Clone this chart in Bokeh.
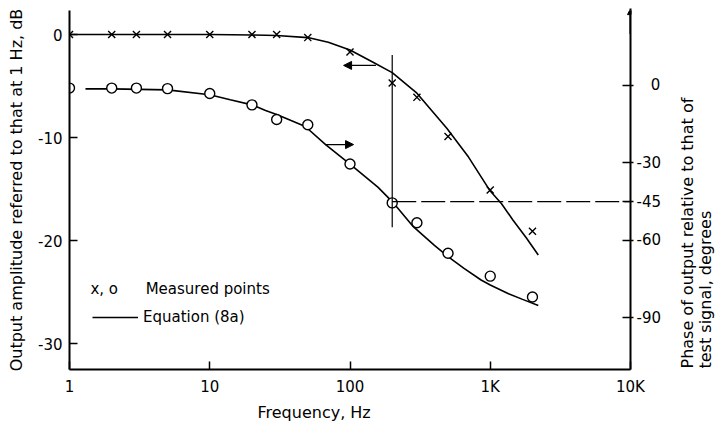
import math
from bokeh.plotting import figure
from bokeh.layouts import row
from bokeh.models import (Range1d, LinearAxis, FixedTicker, Arrow, NormalHead, Label,
                          Legend, LegendItem, Title)
from bokeh.core.properties import value
from bokeh.embed import file_html
from bokeh.resources import INLINE

FONT = "DejaVu Sans"
TICK_FS = "15px"
TITLE_FS = "16px"

# ---------------- data ----------------
# measured points (x = amplitude, o = phase)
freq_meas = [1, 2, 3, 5, 10, 20, 30, 50, 100, 200, 300, 500, 1000, 2000]
amp_meas_db = [0, 0, 0, 0, 0, 0, 0, -0.3, -1.7, -4.7, -6.1, -9.9, -15.1, -19.1]
phase_meas_deg = [-1, -1, -1, -1.2, -3.1, -7.5, -13.2, -15.2, -30.4, -45.5, -53.2, -65, -73.9, -82]

# Equation (8a) curves
amp_curve_freq = [1, 10, 20, 30, 50, 70, 100, 146, 200, 300, 490, 700, 1000, 1200, 1450, 1800, 2200]
amp_curve_db = [0, 0, -0.05, -0.1, -0.3, -0.75, -1.5, -2.7, -3.7, -5.7, -9.1, -11.9, -15.2, -16.4,
                -18.0, -19.7, -21.4]
phase_curve_freq = [1.3, 2, 5, 10, 14, 20, 25, 30, 38, 48, 67, 100, 158, 200, 280, 400, 500, 650,
                    860, 1000, 1350, 1700, 2200]
phase_curve_deg = [-1.3, -1.3, -1.7, -3.6, -5.5, -7.5, -9.7, -11.2, -13.6, -15.9, -22.9, -30.5,
                   -39.4, -45, -54.5, -62, -66.3, -70.9, -75.4, -77.3, -80.7, -82.9, -85.3]

# -45 degree construction at 200 Hz
corner_freq = 200
corner_phase = -45
corner_amp_span = [-2.0, -18.7]

# ticks
x_ticks = [1, 10, 100, 1000, 10000]
x_tick_labels = ["1", "10", "100", "1K", "10K"]
amp_ticks = [0, -10, -20, -30]
amp_tick_labels = ["0", "-10", "-20", "-30"]
phase_ticks = [0, -30, -45, -60, -90]
phase_tick_labels = ["0", "-30", "-45", "-60", "-90"]

right_title_lines = ["Phase of output relative to that of", "test signal, degrees"]

# ---------------- main figure ----------------
p = figure(width=668, height=428, x_axis_type="log",
           x_range=Range1d(1, 10000), y_range=Range1d(-32.52, 2.33),
           output_backend="svg", toolbar_location=None,
           min_border_left=69, min_border_right=38, min_border_top=10, min_border_bottom=59)
p.extra_y_ranges = {"phase": Range1d(-110.08, 29.07)}
p.outline_line_color = None
p.xgrid.grid_line_color = None
p.ygrid.grid_line_color = None
p.background_fill_color = "white"
p.border_fill_color = "white"


def style_axis(ax, standoff):
    ax.axis_line_color = "black"
    ax.axis_line_width = 2
    ax.major_tick_line_color = "black"
    ax.major_tick_line_width = 1.5
    ax.major_tick_in = 8
    ax.major_tick_out = 0
    ax.minor_tick_line_color = None
    ax.major_label_text_font = FONT
    ax.major_label_text_font_size = TICK_FS
    ax.major_label_text_color = "black"
    ax.major_label_standoff = standoff
    ax.axis_label_text_font = FONT
    ax.axis_label_text_font_size = TITLE_FS
    ax.axis_label_text_font_style = "normal"
    ax.axis_label_text_color = "black"


xa = p.xaxis[0]
xa.ticker = FixedTicker(ticks=x_ticks)
xa.major_label_overrides = {t: l for t, l in zip(x_ticks, x_tick_labels)}
style_axis(xa, 8)

ya = p.yaxis[0]
ya.ticker = FixedTicker(ticks=amp_ticks)
ya.major_label_overrides = {t: l for t, l in zip(amp_ticks, amp_tick_labels)}
style_axis(ya, 7)
ya.axis_label = "Output amplitude referred to that at 1 Hz, dB"
ya.axis_label_standoff = 9


# right (phase) axis; short labels padded so that they line up on the right
def pad(s, width):
    missing = width - len(s)
    return "\u2007" * max(0, missing - 1) + ("\u2008" if missing > 0 else "") + s


ra = LinearAxis(y_range_name="phase", ticker=FixedTicker(ticks=phase_ticks))
style_axis(ra, 3)
ra.major_tick_out = 3
ra.major_label_overrides = {t: pad(l, 3) for t, l in zip(phase_ticks, phase_tick_labels)}
p.add_layout(ra, "right")

p.add_layout(Title(text="Frequency, Hz", align="left", offset=188, standoff=5,
                   text_font=FONT, text_font_size=TITLE_FS, text_font_style="normal",
                   text_color="black"), "below")

# ---------------- curves and points ----------------
amp_line = p.line(amp_curve_freq, amp_curve_db, line_color="black", line_width=1.6)
p.line(phase_curve_freq, phase_curve_deg, y_range_name="phase", line_color="black", line_width=1.6)

p.scatter(freq_meas, amp_meas_db, marker="x", size=10, line_color="black", line_width=1.4)
p.scatter(freq_meas, phase_meas_deg, y_range_name="phase", marker="circle", size=10,
          fill_color="white", line_color="black", line_width=1.4)

# -45 degree construction lines
p.segment(x0=[corner_freq], y0=[corner_amp_span[0]], x1=[corner_freq], y1=[corner_amp_span[1]],
          line_color="black", line_width=1.2)
p.segment(x0=[corner_freq], y0=[corner_phase], x1=[x_ticks[-1]], y1=[corner_phase],
          y_range_name="phase", line_color="black", line_width=1.2, line_dash="24 5")

# arrows showing which axis each curve belongs to
p.add_layout(Arrow(end=NormalHead(size=8, fill_color="black", line_color="black"),
                   x_start=153, y_start=-3.0, x_end=90, y_end=-3.0,
                   line_color="black", line_width=1.3))
p.add_layout(Arrow(end=NormalHead(size=8, fill_color="black", line_color="black"),
                   x_start=67, y_start=-22.9, x_end=106, y_end=-22.9, y_range_name="phase",
                   line_color="black", line_width=1.3))
# arrow tip on the right axis
p.add_layout(Arrow(end=NormalHead(size=6, fill_color="black", line_color="black"),
                   x_start=10000, y_start=20, x_end=10000, y_end=29.8, y_range_name="phase",
                   line_color="black", line_width=2))

# ---------------- legend ----------------
legend = Legend(items=[LegendItem(label="Equation (8a)", renderers=[amp_line])],
                location=(23, 42), padding=0, margin=0, spacing=0,
                glyph_width=46, glyph_height=20, label_height=20, label_standoff=5,
                label_text_font=FONT, label_text_font_size=TICK_FS, label_text_color="black",
                border_line_color=None, background_fill_alpha=0)
p.add_layout(legend, "center")
p.add_layout(Label(x=1.41, y=-24.66, text="x, o", text_align="left", text_baseline="middle",
                   text_font=FONT, text_font_size=TICK_FS, text_color="black"))
p.add_layout(Label(x=3.49, y=-24.66, text="Measured points", text_align="left",
                   text_baseline="middle", text_font=FONT, text_font_size=TICK_FS,
                   text_color="black"))

# ---------------- right-hand axis title (two lines, read upwards) ----------------
# this strip's frame is aligned with the main frame by the row layout (359 px tall)
W2 = 715 - 668
p2 = figure(width=W2, height=428, x_range=Range1d(0, W2), y_range=Range1d(0, 359),
            output_backend="svg", toolbar_location=None,
            x_axis_location=None, y_axis_location=None, min_border=0)
p2.outline_line_color = None
p2.background_fill_color = "white"
p2.border_fill_color = "white"
p2.xgrid.grid_line_color = None
p2.ygrid.grid_line_color = None
p2.text(x=[19, 36.5], y=[1, 1], text=right_title_lines, angle=math.pi / 2,
        text_align="left", text_baseline="middle", text_font=value(FONT),
        text_font_size=value(TITLE_FS), text_color="black")

layout = row(p, p2)
open("out.html", "w").write(file_html(layout, INLINE))
